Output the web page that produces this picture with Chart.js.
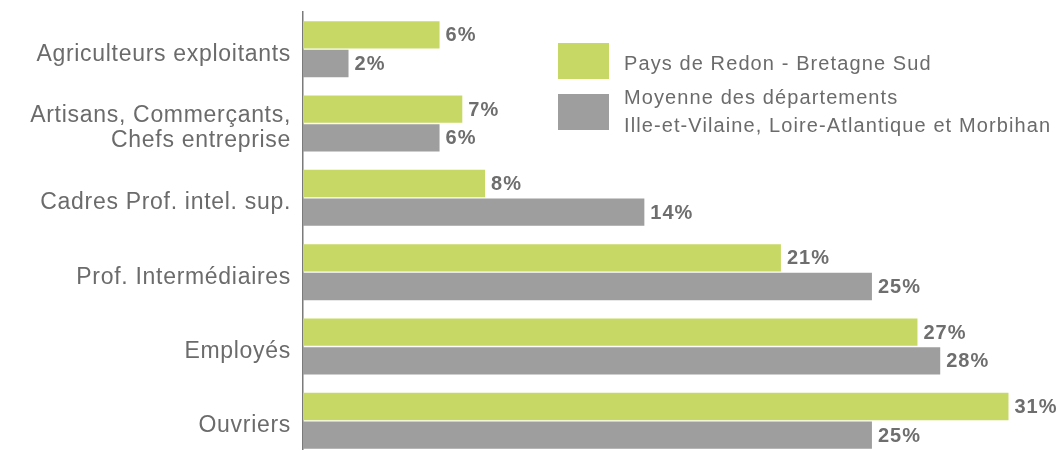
<!DOCTYPE html>
<html>
<head>
<meta charset="utf-8">
<script src="https://cdn.jsdelivr.net/npm/chart.js@4"></script>
<style>
  html, body { margin: 0; padding: 0; background: #fff; overflow: hidden; }
</style>
</head>
<body>
<canvas id="cspChart" width="1059" height="458"></canvas>
<script>
// Catégories socio-professionnelles
const categories = [
    "Agriculteurs exploitants",
    ["Artisans, Commerçants,", "Chefs entreprise"],
    "Cadres Prof. intel. sup.",
    "Prof. Intermédiaires",
    "Employés",
    "Ouvriers"
];

const legendLines = [
    ["Pays de Redon - Bretagne Sud"],
    ["Moyenne des départements", "Ille-et-Vilaine, Loire-Atlantique et Morbihan"]
];

// bar lengths as drawn in the picture
const redonValues = [6, 7, 8, 21, 27, 31];
const moyenneValues = [2, 6, 15, 25, 28, 25];   // the "cadres" bar is drawn at 15 but labelled 14%

// printed labels
const redonText = ["6%", "7%", "8%", "21%", "27%", "31%"];
const moyenneText = ["2%", "6%", "14%", "25%", "28%", "25%"];

const GREEN = "#c7d964";
const GREY = "#9e9e9e";
const TEXT = "#6b6b6b";
const FONT = '"Liberation Sans", Arial, Helvetica, sans-serif';

// Slightly wider glyph spacing, like the original rendering
const spacingPlugin = {
    id: "spacing",
    beforeUpdate(chart) { chart.ctx.letterSpacing = "0.7px"; },
    beforeDraw(chart) { chart.ctx.letterSpacing = "0.7px"; }
};

// Value labels at the end of each bar
const valueLabels = {
    id: "valueLabels",
    afterDatasetsDraw(chart) {
        const ctx = chart.ctx;
        const texts = [redonText, moyenneText];
        ctx.save();
        ctx.font = "bold 20px " + FONT;
        ctx.letterSpacing = "1px";
        ctx.fillStyle = "#6e6e6e";
        ctx.textAlign = "left";
        ctx.textBaseline = "middle";
        chart.data.datasets.forEach((ds, i) => {
            chart.getDatasetMeta(i).data.forEach((bar, j) => {
                ctx.fillText(texts[i][j], bar.x + 6, bar.y + 1);
            });
        });
        ctx.restore();
    }
};

// Legend drawn in the upper right, boxes on the left of the text
const boxLegend = {
    id: "boxLegend",
    afterDraw(chart) {
        const ctx = chart.ctx;
        const boxes = [43, 94];
        const baselines = [[69.5], [104, 132]];
        ctx.save();
        ctx.font = "20px " + FONT;
        ctx.letterSpacing = "1.1px";
        ctx.textBaseline = "alphabetic";
        chart.data.datasets.forEach((ds, i) => {
            ctx.fillStyle = ds.backgroundColor;
            ctx.fillRect(558, boxes[i], 51, 36);
            ctx.fillStyle = TEXT;
            legendLines[i].forEach((line, k) => {
                ctx.fillText(line, 624, baselines[i][k]);
            });
        });
        ctx.restore();
    }
};

new Chart(document.getElementById("cspChart"), {
    type: "bar",
    data: {
        labels: categories,
        datasets: [{
            label: legendLines[0].join(" "),
            data: redonValues,
            backgroundColor: GREEN,
            categoryPercentage: 0.771,
            barPercentage: 0.956
        }, {
            label: legendLines[1].join(" "),
            data: moyenneValues,
            backgroundColor: GREY,
            categoryPercentage: 0.771,
            barPercentage: 0.956
        }]
    },
    options: {
        indexAxis: "y",
        responsive: false,
        animation: false,
        layout: {
            padding: { top: 12, right: 5, left: 0, bottom: 0 }
        },
        plugins: {
            legend: { display: false },
            tooltip: { enabled: false }
        },
        scales: {
            x: {
                display: false,
                min: 0,
                max: 33
            },
            y: {
                afterFit(scale) {
                    scale.width = 303;
                    scale.paddingTop = 0;
                    scale.paddingBottom = 0;
                },
                grid: { display: false, drawTicks: false },
                border: { display: true, color: "#7a7a7a", width: 1.5 },
                ticks: {
                    color: TEXT,
                    padding: 12,
                    labelOffset: 5,
                    font: { family: FONT, size: 23, lineHeight: 1.1 }
                }
            }
        }
    },
    plugins: [spacingPlugin, valueLabels, boxLegend]
});
</script>
</body>
</html>
